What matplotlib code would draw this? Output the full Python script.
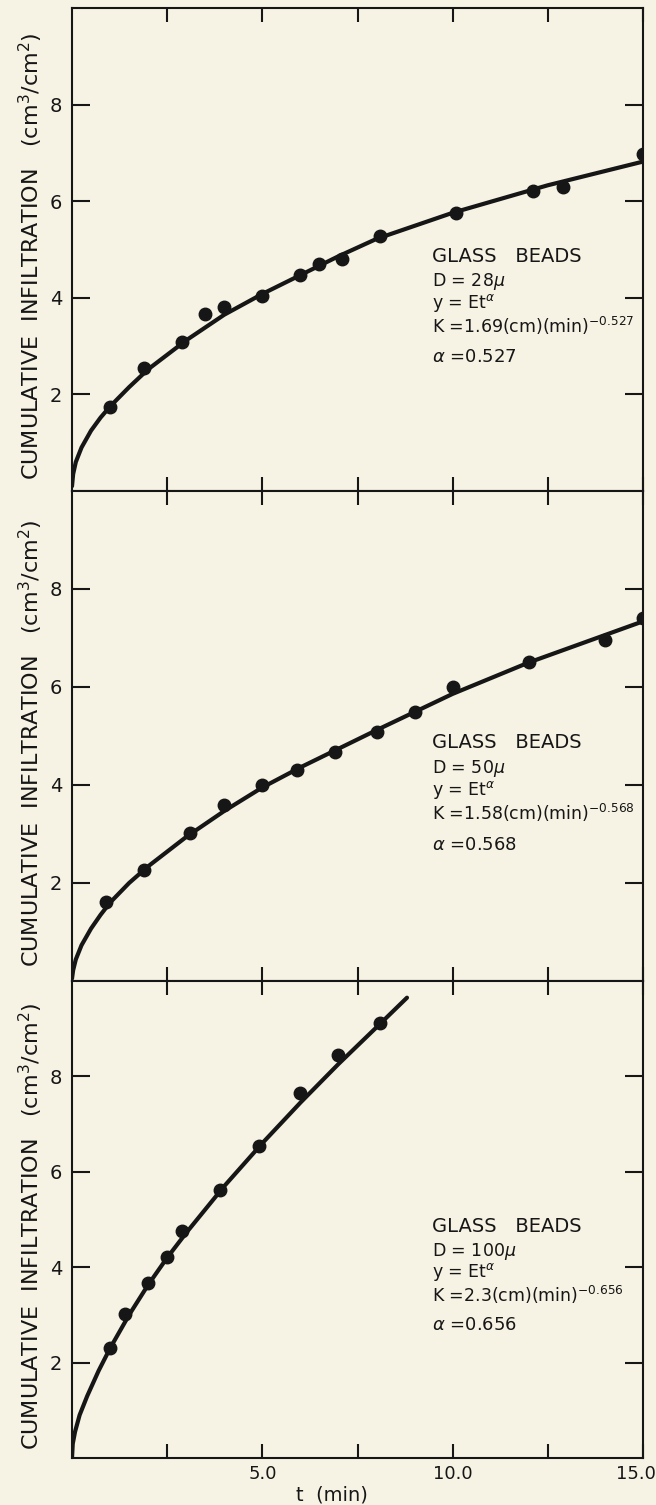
import numpy as np
import matplotlib.pyplot as plt
from matplotlib.transforms import ScaledTranslation

# measured points, one list pair per panel (t in min, y in cm3/cm2)
t_28 = [1.0, 1.9, 2.9, 3.5, 4.0, 5.0, 6.0, 6.5, 7.1, 8.1, 10.1, 12.1, 12.9, 15.0]
y_28 = [1.74, 2.55, 3.09, 3.66, 3.81, 4.04, 4.48, 4.69, 4.80, 5.27, 5.76, 6.22, 6.30, 6.97]

t_50 = [0.9, 1.9, 3.1, 4.0, 5.0, 5.9, 6.9, 8.0, 9.0, 10.0, 12.0, 14.0, 15.0]
y_50 = [1.62, 2.27, 3.03, 3.59, 4.00, 4.31, 4.67, 5.08, 5.49, 6.00, 6.51, 6.96, 7.40]

t_100 = [1.0, 1.4, 2.0, 2.5, 2.9, 3.9, 4.9, 6.0, 7.0, 8.1]
y_100 = [2.31, 3.01, 3.66, 4.22, 4.76, 5.61, 6.54, 7.65, 8.45, 9.11]

# fitted curves as drawn
fit_t_28 = [0, 0.03, 0.1, 0.25, 0.5, 0.75, 1, 1.5, 2, 3, 4, 5, 6, 7, 8, 10, 12.5, 15]
fit_y_28 = [0.1, 0.35, 0.6, 0.9, 1.25, 1.52, 1.75, 2.15, 2.52, 3.12, 3.65, 4.08, 4.47, 4.86, 5.22, 5.76, 6.33, 6.82]

fit_t_50 = [0, 0.03, 0.1, 0.25, 0.5, 0.75, 1, 1.5, 2, 3, 4, 5, 6, 7, 8, 10, 12, 15]
fit_y_50 = [0.05, 0.22, 0.44, 0.73, 1.07, 1.35, 1.6, 2.0, 2.34, 2.94, 3.47, 3.95, 4.36, 4.74, 5.12, 5.86, 6.5, 7.34]

fit_t_100 = [0, 0.02, 0.08, 0.2, 0.4, 0.7, 1, 1.5, 2, 2.5, 3, 4, 5, 6, 7, 8, 8.8]
fit_y_100 = [0.0, 0.3, 0.55, 0.9, 1.3, 1.83, 2.3, 3.0, 3.63, 4.2, 4.72, 5.7, 6.6, 7.45, 8.26, 9.03, 9.65]

diameters = ['28', '50', '100']
k_values = ['1.69', '1.58', '2.3']
alphas = ['0.527', '0.568', '0.656']

xticks = [2.5, 5.0, 7.5, 10.0, 12.5, 15.0]
xticklabels = ['', '5.0', '', '10.0', '', '15.0']
yticks = [2, 4, 6, 8]

paper = '#f6f3e4'
ink = '#161616'

W, H = 656, 1505
left, right = 72, 643
edges = [8, 491, 981, 1458]

fig = plt.figure(figsize=(W / 100, H / 100), dpi=100, facecolor=paper)

panels = [(t_28, y_28, fit_t_28, fit_y_28),
          (t_50, y_50, fit_t_50, fit_y_50),
          (t_100, y_100, fit_t_100, fit_y_100)]

axes = []
for i, (t, y, ft, fy) in enumerate(panels):
    top, bot = edges[i], edges[i + 1]
    ax = fig.add_axes([left / W, 1 - bot / H, (right - left) / W, (bot - top) / H],
                      sharex=axes[0] if axes else None)
    ax.set_facecolor(paper)
    ax.plot(ft, fy, color=ink, lw=3.0, solid_capstyle='round')
    ax.plot(t, y, 'o', color=ink, ms=9)
    ax.set_xlim(0, 15)
    ax.set_ylim(0, 10)
    ax.set_yticks(yticks)
    ax.set_xticks(xticks)
    for s in ax.spines.values():
        s.set_linewidth(1.5)
        s.set_color(ink)
    ax.tick_params(axis='both', direction='in', top=True, right=True, width=1.5,
                   colors=ink, labelsize=14, pad=7)
    ax.tick_params(axis='x', length=10, labelsize=13, pad=5)
    ax.tick_params(axis='y', length=13)
    ax.set_ylabel('CUMULATIVE  INFILTRATION   (cm$^3$/cm$^2$)', fontsize=16, color=ink)
    ax.yaxis.set_label_coords(-0.047, 0.485)

    # fit annotation
    tx = 9.45
    ax.text(tx, 4.86, 'GLASS   BEADS', fontsize=14, color=ink, va='center')
    ax.text(tx, 4.33, 'D = ' + diameters[i] + r'$\mu$', fontsize=12.5, color=ink, va='center')
    ax.text(tx, 3.9, r'y = Et$^{\alpha}$', fontsize=12.5, color=ink, va='center')
    ax.text(tx, 3.42, 'K =' + k_values[i] + '(cm)(min)$^{-' + alphas[i] + '}$',
            fontsize=12.5, color=ink, va='center')
    ax.text(tx, 2.78, r'$\alpha$ =' + alphas[i], fontsize=13, color=ink, va='center')

    if i < 2:
        ax.tick_params(labelbottom=False)
    axes.append(ax)

axes[-1].set_xticklabels(xticklabels)
last = axes[-1].get_xticklabels()[-1]
last.set_horizontalalignment('right')
last.set_transform(last.get_transform() + ScaledTranslation(0.13, 0, fig.dpi_scale_trans))
axes[-1].set_xlabel('t  (min)', fontsize=14, color=ink)
axes[-1].xaxis.set_label_coords(0.455, -0.058)

fig.savefig('out.png', dpi=100, facecolor=paper)
